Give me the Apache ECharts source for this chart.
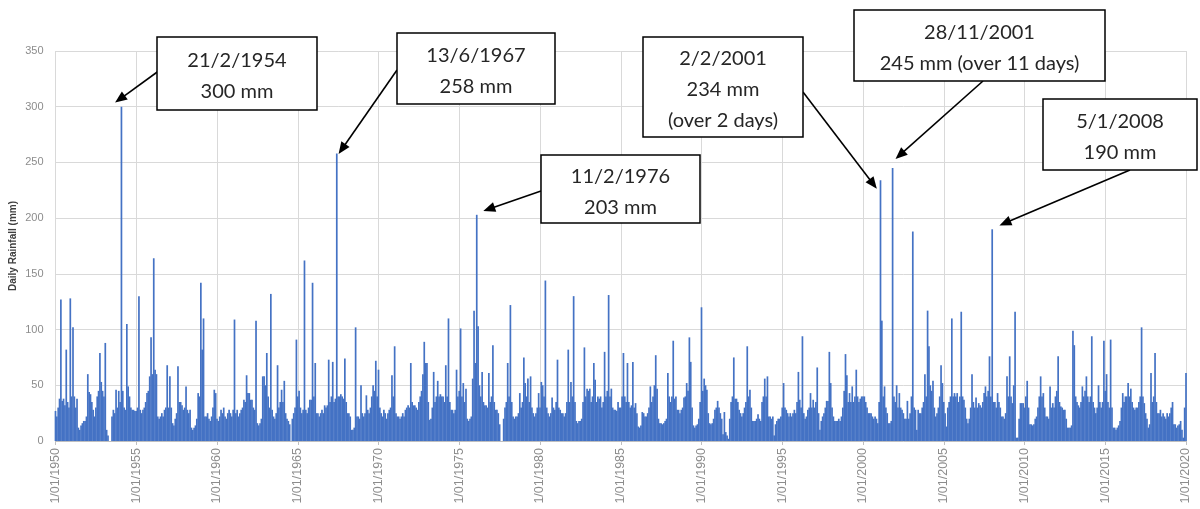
<!DOCTYPE html>
<html><head><meta charset="utf-8">
<script src="https://cdn.jsdelivr.net/npm/echarts@6/dist/echarts.min.js"></script>
<style>html,body{margin:0;padding:0;background:#fff}#c{width:1200px;height:509px}</style>
</head><body><div id="c"></div><script>
// Monthly peak daily rainfall (mm), Jan 1950 onward
const startYear = 1950;
const rain1950s = [
27,22,30,38,127,36,38,32,82,35,30,128,
40,102,40,30,38,12,10,14,16,18,18,22,
60,44,42,35,28,22,30,40,45,79,53,45,
40,88,10,5,0,0,22,28,25,46,30,45,
35,300,45,30,28,105,49,40,30,28,28,27,
27,30,130,28,25,28,30,35,43,45,58,93,
60,164,64,60,22,20,22,25,22,28,30,68,
30,58,30,16,14,20,25,67,35,35,32,28,
30,49,28,25,28,12,10,12,14,20,43,40,
142,82,110,22,22,25,20,18,22,30,46,43];
const rain1960s = [
20,18,22,28,25,30,22,20,25,28,25,22,
28,109,25,28,22,25,28,30,37,35,59,43,
43,37,37,30,28,108,16,14,16,20,58,58,
50,79,40,30,132,28,22,20,25,68,30,35,
46,35,54,25,20,18,15,0,20,25,30,91,
40,45,30,25,28,162,28,25,30,37,37,142,
40,70,25,25,22,25,28,25,32,30,32,73,
35,40,71,35,38,258,40,40,42,40,38,74,
35,25,25,22,10,10,12,102,22,22,20,50,
25,22,25,41,28,25,30,40,50,45,72,40];
const rain1970s = [
64,30,25,22,28,25,20,25,28,30,59,40,
85,25,22,22,20,22,25,22,28,30,32,30,
70,35,32,32,30,28,35,40,45,60,89,70,
70,35,19,20,30,62,35,40,54,40,42,40,
40,35,68,40,110,35,28,28,25,28,64,40,
45,101,40,52,35,47,20,18,20,22,56,117,
70,203,103,50,40,62,35,32,32,30,61,35,
40,86,35,28,28,25,15,0,0,20,30,35,
70,40,122,35,22,20,22,22,25,43,30,35,
75,52,40,56,35,58,30,25,22,25,30,43];
const rain1980s = [
30,53,50,40,144,30,25,22,25,39,30,28,
35,73,30,28,25,25,22,25,35,82,35,53,
40,130,35,18,16,18,18,20,35,84,40,47,
45,47,35,40,70,55,35,40,38,40,30,35,
80,40,45,131,40,47,30,28,28,27,35,30,
30,40,79,40,35,70,35,30,32,71,30,34,
25,13,12,14,26,25,22,22,25,30,49,35,
40,50,77,47,20,16,16,15,16,18,20,61,
40,35,40,90,38,40,28,28,25,28,30,39,
40,52,45,93,71,30,14,12,14,15,20,35];
const rain1990s = [
120,45,56,50,46,25,16,15,16,20,28,30,
36,30,25,20,6,26,8,5,2,20,35,40,
75,38,38,35,28,25,22,25,30,35,85,40,
46,30,18,18,18,20,24,20,18,35,40,56,
40,58,22,22,20,22,5,15,18,20,20,22,
30,52,30,28,25,22,25,22,25,28,25,35,
62,37,30,94,25,20,22,28,30,43,30,37,
30,35,66,25,10,18,22,25,30,36,36,80,
52,30,22,18,18,18,20,18,22,30,45,78,
59,35,43,35,49,35,40,64,40,35,38,40];
const rain2000s = [
40,40,35,30,25,25,25,22,20,22,20,16,
35,234,108,40,49,30,25,16,16,18,245,40,
35,50,30,43,30,28,25,20,20,36,20,25,
40,188,30,28,10,28,25,25,30,35,60,40,
117,85,50,45,54,30,22,25,30,40,68,52,
35,25,13,30,35,40,110,40,43,40,43,35,
40,116,40,37,30,20,16,20,30,60,35,30,
39,30,34,32,30,35,43,49,40,45,76,40,
190,35,35,30,43,35,30,22,22,20,25,58,
40,76,40,34,50,116,3,3,20,34,34,34];
const rain2010s = [
30,40,54,30,15,15,14,15,20,22,30,40,
58,40,43,30,22,22,20,49,30,34,30,40,
45,76,35,31,30,28,28,20,12,12,12,14,
99,86,40,35,32,30,35,49,40,45,58,40,
35,40,94,35,30,25,30,50,35,30,35,90,
45,60,35,30,91,30,12,12,10,12,14,18,
30,43,35,40,40,52,40,47,35,30,28,30,
30,35,40,102,40,34,25,20,12,15,61,35,
40,79,35,25,25,28,22,25,22,20,25,22,
25,30,35,15,15,12,14,15,18,10,3,30];
const rain2020 = [61];

const xTickPrefix = '1/01/';
const yAxisTitle = 'Daily Rainfall (mm)';
const annTexts = [
  '21/2/1954\n300 mm',
  '13/6/1967\n258 mm',
  '11/2/1976\n203 mm',
  '2/2/2001\n234 mm\n(over 2 days)',
  '28/11/2001\n245 mm (over 11 days)',
  '5/1/2008\n190 mm'
];
const annArrowYear = [1953.99, 1967.74, 1976.84, 2000.63, 2002.29, 2008.79];
const annArrowValue = [306.9, 262, 208.2, 230.6, 256.7, 195.6];

const allRain = [].concat(rain1950s, rain1960s, rain1970s, rain1980s, rain1990s, rain2000s, rain2010s, rain2020);
const seriesData = allRain.map((v, i) => [startYear + i / 12, v]);

const boxes = [
  {x:157, y:37, w:160, h:73},
  {x:397, y:33, w:158, h:71},
  {x:541, y:155, w:159, h:68},
  {x:643, y:37, w:160, h:100},
  {x:854, y:10, w:251, h:71},
  {x:1043, y:99, w:154, h:71}
];
const arrowStarts = [[160,70],[397,70],[541,191],[803,92],[983,81],[1130,170]];

const graphic = [];
boxes.forEach((b, i) => {
  graphic.push({type:'rect', shape:{x:b.x, y:b.y, width:b.w, height:b.h},
    style:{fill:'#fff', stroke:'#000', lineWidth:1.5}, z:100});
  graphic.push({type:'text', x:b.x + b.w/2, y:b.y + b.h/2 + 3, z:101,
    style:{text:annTexts[i], align:'center', verticalAlign:'middle',
      font:'20px Lato', lineHeight:31, fill:'#262626'}});
});

const chart = echarts.init(document.getElementById('c'), null, {renderer:'canvas'});
chart.setOption({
  animation:false,
  backgroundColor:'#fff',
  grid:{left:55.5, right:14, top:51, bottom:68, containLabel:false, outerBoundsMode:'none'},
  xAxis:{type:'value', min:1950, max:2020, interval:5,
    axisLine:{show:true, lineStyle:{color:'#bfbfbf'}},
    axisTick:{show:true, length:4, lineStyle:{color:'#bfbfbf'}},
    splitLine:{show:true, lineStyle:{color:'#d9d9d9', width:1}},
    axisLabel:{rotate:90, formatter:v => xTickPrefix + v, fontSize:12.5, color:'#8c8c8c',
      fontFamily:'Liberation Sans', margin:7}},
  yAxis:{type:'value', min:0, max:350, interval:50,
    name:yAxisTitle, nameLocation:'middle', nameRotate:90, nameGap:37, nameMoveOverlap:false,
    nameTextStyle:{fontSize:10, fontWeight:'bold', color:'#404040', fontFamily:'Liberation Sans'},
    axisLine:{show:false}, axisTick:{show:false},
    splitLine:{show:true, lineStyle:{color:'#d9d9d9', width:1}},
    axisLabel:{fontSize:11, color:'#8c8c8c', fontFamily:'Liberation Sans', margin:12}},
  series:[{
    type:'bar', data:seriesData, barWidth:1.7,
    itemStyle:{color:'#4472C4'},
    markLine:{silent:true, animation:false, symbol:['none','triangle'], symbolSize:[10,12],
      label:{show:false}, lineStyle:{color:'#000', width:1.6, type:'solid'},
      data: annArrowYear.map((yr, i) => [
        {x:arrowStarts[i][0], y:arrowStarts[i][1]},
        {coord:[yr, annArrowValue[i]]}
      ])}
  }],
  graphic:graphic
});
</script></body></html>
